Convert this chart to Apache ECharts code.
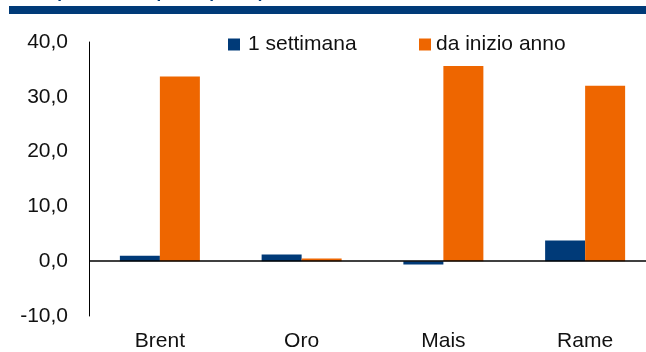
<!DOCTYPE html>
<html>
<head>
<meta charset="utf-8">
<script src="https://cdn.jsdelivr.net/npm/echarts@6/dist/echarts.min.js"></script>
<style>
  html, body { margin: 0; padding: 0; background: #ffffff; overflow: hidden; }
  #wrap { width: 646px; height: 352px; overflow: hidden; }
  /* the plot area runs past the right edge of the page, so the canvas is wider */
  #chart { width: 680px; height: 352px; }
</style>
</head>
<body>
<div id="wrap"><div id="chart"></div></div>
<script>
// Principali materie prime: variazione % a 1 settimana e da inizio anno
const categories = ['Brent', 'Oro', 'Mais', 'Rame'];
const settimana = [1.0, 1.2, -0.6, 3.8];
const inizioAnno = [33.7, 0.5, 35.6, 32.0];
const seriesNames = ['1 settimana', 'da inizio anno'];
const yTicks = { min: -10, max: 40, step: 10 };

const NAVY = '#003a78';
const ORANGE = '#ee6600';
const FONT = '"Liberation Sans", Arial, sans-serif';

const chart = echarts.init(document.getElementById('chart'), null, { renderer: 'canvas' });

chart.setOption({
  animation: false,
  backgroundColor: '#ffffff',
  textStyle: { fontFamily: FONT },
  graphic: [
    {
      type: 'text',
      left: 10,
      top: -15,
      style: {
        text: 'Principali materie prime (var %)',
        fill: NAVY,
        font: 'bold 17px ' + FONT
      }
    },
    {
      type: 'rect',
      shape: { x: 9, y: 6, width: 680, height: 8 },
      style: { fill: NAVY }
    }
  ],
  legend: [
    {
      data: [seriesNames[0]],
      left: 228,
      top: 34,
      padding: 0,
      itemWidth: 12,
      itemHeight: 12,
      icon: 'rect',
      textStyle: { fontSize: 21, color: '#111', fontFamily: FONT, padding: [0, 0, 0, 3] }
    },
    {
      data: [seriesNames[1]],
      left: 419,
      top: 34,
      padding: 0,
      itemWidth: 12,
      itemHeight: 12,
      icon: 'rect',
      textStyle: { fontSize: 21, color: '#111', fontFamily: FONT, padding: [0, 0, 0, 0] }
    }
  ],
  grid: { left: 89, top: 42, width: 567, bottom: 34, containLabel: false },
  xAxis: {
    type: 'category',
    data: categories,
    axisLine: { show: false, onZero: false },
    axisTick: { show: false },
    axisLabel: { fontSize: 21, color: '#111', margin: 15, fontFamily: FONT },
    splitLine: { show: false }
  },
  yAxis: {
    type: 'value',
    min: yTicks.min,
    max: yTicks.max,
    interval: yTicks.step,
    axisLine: { show: true, lineStyle: { color: '#000', width: 1 } },
    axisTick: { show: false },
    splitLine: { show: false },
    axisLabel: {
      fontSize: 21,
      color: '#111',
      margin: 21,
      fontFamily: FONT,
      formatter: v => v.toFixed(1).replace('.', ',')
    }
  },
  series: [
    {
      name: seriesNames[0],
      type: 'bar',
      data: settimana,
      barWidth: 40,
      barGap: '0%',
      itemStyle: { color: NAVY },
      markLine: {
        silent: true,
        symbol: 'none',
        label: { show: false },
        lineStyle: { color: '#000', width: 1.5, type: 'solid' },
        data: [{ yAxis: 0 }]
      }
    },
    {
      name: seriesNames[1],
      type: 'bar',
      data: inizioAnno,
      barWidth: 40,
      barGap: '0%',
      itemStyle: { color: ORANGE }
    }
  ]
});
</script>
</body>
</html>
